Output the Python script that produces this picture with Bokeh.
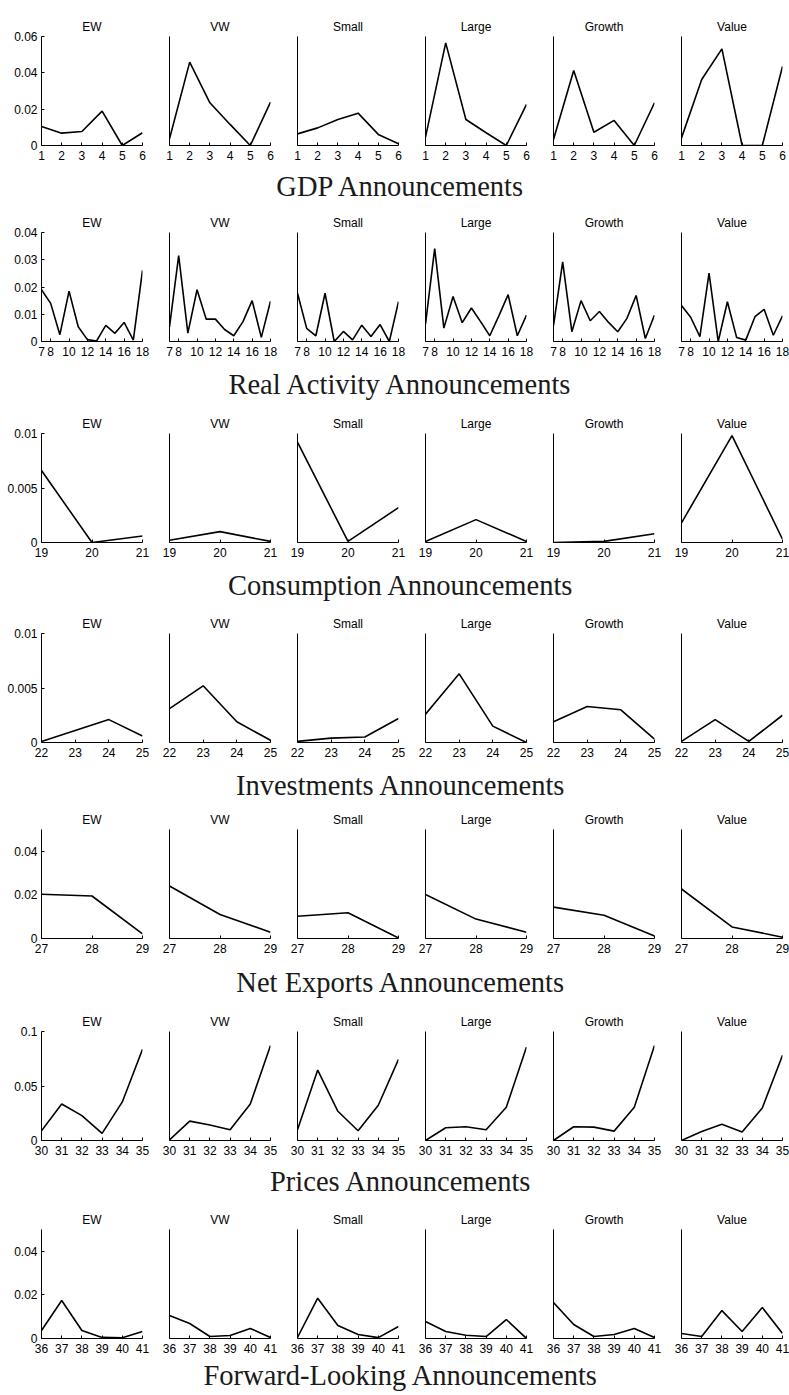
from bokeh.plotting import figure
from bokeh.layouts import column, row
from bokeh.models import Range1d, FixedTicker, NumeralTickFormatter
from bokeh.core.properties import value
from bokeh.embed import file_html
from bokeh.resources import INLINE

# ---------------------------------------------------------------- data
portfolios = ["EW", "VW", "Small", "Large", "Growth", "Value"]

gdp_x = [1, 2, 3, 4, 5, 6]
gdp = {
    "EW":     [0.0105, 0.0068, 0.0077, 0.0189, 0.0000, 0.0070],
    "VW":     [0.0037, 0.0459, 0.0235, 0.0116, 0.0000, 0.0239],
    "Small":  [0.0064, 0.0097, 0.0143, 0.0178, 0.0061, 0.0010],
    "Large":  [0.0046, 0.0565, 0.0143, 0.0070, 0.0000, 0.0226],
    "Growth": [0.0033, 0.0413, 0.0073, 0.0138, 0.0000, 0.0235],
    "Value":  [0.0042, 0.0363, 0.0532, 0.0000, 0.0000, 0.0435],
}
gdp_yticks = [0, 0.02, 0.04, 0.06]
gdp_xticks = [1, 2, 3, 4, 5, 6]

real_x = [7, 8, 9, 10, 11, 12, 13, 14, 15, 16, 17, 18]
real = {
    "EW":     [0.0190, 0.0140, 0.0025, 0.0185, 0.0054, 0.0007, 0.0002, 0.0059, 0.0030, 0.0070, 0.0005, 0.0261],
    "VW":     [0.0054, 0.0315, 0.0031, 0.0190, 0.0082, 0.0082, 0.0044, 0.0021, 0.0073, 0.0150, 0.0015, 0.0148],
    "Small":  [0.0177, 0.0048, 0.0021, 0.0177, 0.0000, 0.0037, 0.0006, 0.0060, 0.0018, 0.0062, 0.0000, 0.0146],
    "Large":  [0.0064, 0.0341, 0.0049, 0.0165, 0.0069, 0.0123, 0.0073, 0.0021, 0.0095, 0.0172, 0.0021, 0.0097],
    "Growth": [0.0058, 0.0292, 0.0036, 0.0150, 0.0076, 0.0110, 0.0070, 0.0036, 0.0085, 0.0169, 0.0011, 0.0097],
    "Value":  [0.0132, 0.0089, 0.0018, 0.0251, 0.0000, 0.0146, 0.0015, 0.0005, 0.0091, 0.0118, 0.0023, 0.0094],
}
real_yticks = [0, 0.01, 0.02, 0.03, 0.04]
real_xticks = [7, 8, 10, 12, 14, 16, 18]

cons_x = [19, 20, 21]
cons = {
    "EW":     [0.0066, 0.0000, 0.0006],
    "VW":     [0.0002, 0.0010, 0.0001],
    "Small":  [0.0092, 0.0001, 0.0032],
    "Large":  [0.0001, 0.0021, 0.0001],
    "Growth": [0.0000, 0.0001, 0.0008],
    "Value":  [0.0018, 0.0098, 0.0003],
}
cons_yticks = [0, 0.005, 0.01]
cons_xticks = [19, 20, 21]

inv_x = [22, 23, 24, 25]
inv = {
    "EW":     [0.0001, 0.0011, 0.0021, 0.0006],
    "VW":     [0.0031, 0.0052, 0.0019, 0.0002],
    "Small":  [0.0001, 0.0004, 0.0005, 0.0022],
    "Large":  [0.0026, 0.0063, 0.0015, 0.0000],
    "Growth": [0.0019, 0.0033, 0.0030, 0.0003],
    "Value":  [0.0001, 0.0021, 0.0001, 0.0025],
}
inv_yticks = [0, 0.005, 0.01]
inv_xticks = [22, 23, 24, 25]

nx_x = [27, 28, 29]
nx = {
    "EW":     [0.0203, 0.0195, 0.0021],
    "VW":     [0.0241, 0.0110, 0.0029],
    "Small":  [0.0102, 0.0118, 0.0002],
    "Large":  [0.0202, 0.0089, 0.0029],
    "Growth": [0.0144, 0.0107, 0.0011],
    "Value":  [0.0227, 0.0053, 0.0006],
}
nx_yticks = [0, 0.02, 0.04]
nx_xticks = [27, 28, 29]

price_x = [30, 31, 32, 33, 34, 35]
price = {
    "EW":     [0.0089, 0.0335, 0.0228, 0.0065, 0.0354, 0.0837],
    "VW":     [0.0006, 0.0178, 0.0142, 0.0098, 0.0335, 0.0871],
    "Small":  [0.0098, 0.0646, 0.0268, 0.0089, 0.0323, 0.0745],
    "Large":  [0.0000, 0.0117, 0.0126, 0.0098, 0.0305, 0.0858],
    "Growth": [0.0000, 0.0126, 0.0123, 0.0086, 0.0305, 0.0871],
    "Value":  [0.0000, 0.0083, 0.0148, 0.0077, 0.0298, 0.0782],
}
price_yticks = [0, 0.05, 0.1]
price_xticks = [30, 31, 32, 33, 34, 35]

fwd_x = [36, 37, 38, 39, 40, 41]
fwd = {
    "EW":     [0.0037, 0.0174, 0.0037, 0.0005, 0.0003, 0.0032],
    "VW":     [0.0105, 0.0069, 0.0009, 0.0014, 0.0046, 0.0005],
    "Small":  [0.0005, 0.0185, 0.0060, 0.0018, 0.0004, 0.0055],
    "Large":  [0.0078, 0.0032, 0.0015, 0.0009, 0.0087, 0.0000],
    "Growth": [0.0165, 0.0064, 0.0009, 0.0018, 0.0046, 0.0005],
    "Value":  [0.0023, 0.0009, 0.0128, 0.0032, 0.0142, 0.0023],
}
fwd_yticks = [0, 0.02, 0.04]
fwd_xticks = [36, 37, 38, 39, 40, 41]

sections = [
    ("GDP Announcements", gdp_x, gdp, 0.06, gdp_yticks, gdp_xticks),
    ("Real Activity Announcements", real_x, real, 0.04, real_yticks, real_xticks),
    ("Consumption Announcements", cons_x, cons, 0.01, cons_yticks, cons_xticks),
    ("Investments Announcements", inv_x, inv, 0.01, inv_yticks, inv_xticks),
    ("Net Exports Announcements", nx_x, nx, 0.05, nx_yticks, nx_xticks),
    ("Prices Announcements", price_x, price, 0.1, price_yticks, price_xticks),
    ("Forward-Looking Announcements", fwd_x, fwd, 0.05, fwd_yticks, fwd_xticks),
]

# ---------------------------------------------------------------- layout
PAGE_W, PAGE_H = 789, 1395
FRAME_W, FRAME_H = 101, 109
FRAME_TOPS = [36, 232, 433, 633, 829, 1031, 1229]   # top edge of each panel row
HEAD_MIDS = [21, 23, 23, 23, 24, 21, 17]             # heading centre inside its strip
TOP_PAD = 24          # room for the small panel titles
BOTTOM_PAD = 20       # room for the x tick labels
SANS = "Liberation Sans"
SERIF = "Liberation Serif"


def style_axis(axis, font_size="12px"):
    axis.axis_line_color = "black"
    axis.axis_line_width = 1
    axis.major_tick_line_color = "black"
    axis.major_tick_in = 3
    axis.major_tick_out = 0
    axis.minor_tick_line_color = None
    axis.major_label_text_font = SANS
    axis.major_label_text_font_size = font_size
    axis.major_label_text_color = "black"


def panel(col, name, xs, ys, ymax, yticks, xticks, top_pad):
    p = figure(
        title=name,
        frame_width=FRAME_W, frame_height=FRAME_H,
        min_border_left=41 if col == 0 else 13,
        min_border_right=7 if col == 5 else 14,
        min_border_top=top_pad, min_border_bottom=BOTTOM_PAD,
        x_range=Range1d(xs[0], xs[-1]), y_range=Range1d(0, ymax),
        output_backend="svg", toolbar_location=None, tools="",
    )
    p.title.align = "center"
    p.title.text_font = SANS
    p.title.text_font_style = "normal"
    p.title.text_font_size = "12px"
    p.title.text_color = "black"
    p.title.standoff = 6
    p.outline_line_color = None
    p.xgrid.visible = False
    p.ygrid.visible = False
    p.background_fill_color = "white"
    p.border_fill_color = "white"

    xa = p.xaxis[0]
    xa.ticker = FixedTicker(ticks=xticks)
    style_axis(xa)
    xa.major_label_standoff = 5

    ya = p.yaxis[0]
    style_axis(ya)
    ya.major_label_standoff = 4
    if col == 0:
        ya.ticker = FixedTicker(ticks=yticks)
        ya.formatter = NumeralTickFormatter(format="0.[000]")
    else:
        # only the bare axis line on the inner panels
        ya.ticker = FixedTicker(ticks=[])

    p.line(xs, ys, line_color="black", line_width=1.6)
    return p


def heading(text, height, mid):
    h = figure(
        title=None, width=PAGE_W, height=height,
        x_range=Range1d(0, PAGE_W), y_range=Range1d(height, 0),
        x_axis_location=None, y_axis_location=None,
        min_border=0, output_backend="svg", toolbar_location=None, tools="",
    )
    h.outline_line_color = None
    h.xgrid.visible = False
    h.ygrid.visible = False
    h.text(x=[PAGE_W / 2 + 6], y=[mid], text=[text],
           text_align="center", text_baseline="middle",
           text_font=value(SERIF), text_font_size="28.5px", text_color="#1a1a1a")
    return h


blocks = []
for i, (title, xs, series, ymax, yticks, xticks) in enumerate(sections):
    top_pad = FRAME_TOPS[0] if i == 0 else TOP_PAD
    panels = [panel(c, nm, xs, series[nm], ymax, yticks, xticks, top_pad)
              for c, nm in enumerate(portfolios)]
    blocks.append(row(*panels, spacing=0))
    strip_top = FRAME_TOPS[i] + FRAME_H + BOTTOM_PAD
    strip_bottom = FRAME_TOPS[i + 1] - TOP_PAD if i + 1 < len(sections) else PAGE_H
    blocks.append(heading(title, strip_bottom - strip_top, HEAD_MIDS[i]))

layout = column(*blocks, spacing=0)

with open("out.html", "w") as f:
    f.write(file_html(layout, INLINE))
